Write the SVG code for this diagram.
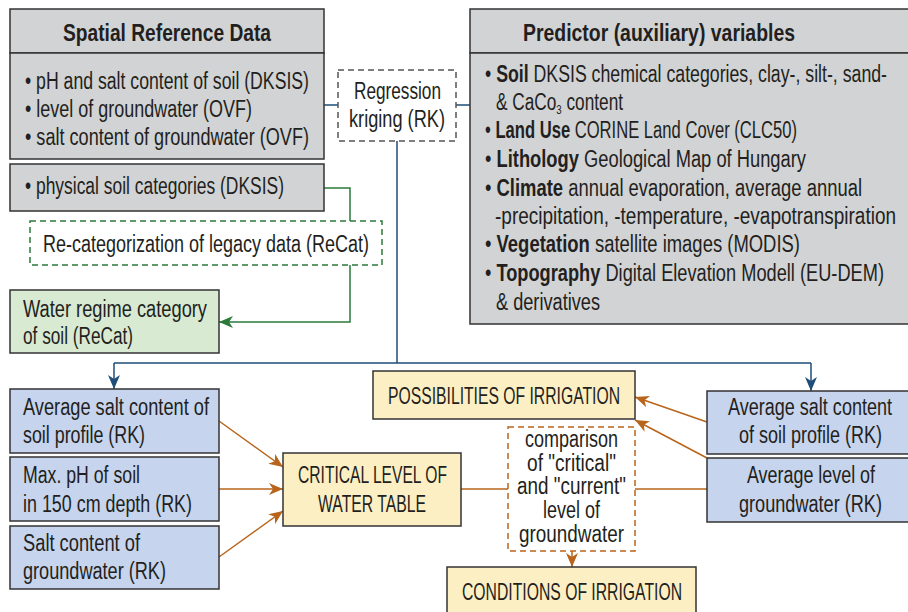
<svg xmlns="http://www.w3.org/2000/svg" width="908" height="612" viewBox="0 0 908 612">
<style>
text{font-family:"Liberation Sans",Arial,sans-serif;font-size:23px;fill:#231f20}
.b{font-weight:bold}
.h{font-weight:bold;font-size:24px}
.k{font-size:24px}
.gray{fill:#d1d3d4;stroke:#333;stroke-width:1.5}
.blue{fill:#c6d4ee;stroke:#333;stroke-width:1.5}
.yel{fill:#fdefc4;stroke:#333;stroke-width:1.5}
.grn{fill:#d8ead2;stroke:#333;stroke-width:1.5}
.dg{fill:#fff;stroke:#555;stroke-width:1.5;stroke-dasharray:6,4}
.dgr{fill:#fff;stroke:#2a7a3a;stroke-width:1.5;stroke-dasharray:6,4}
.dor{fill:#fff;stroke:#b8651b;stroke-width:1.5;stroke-dasharray:6,4}
.lb{fill:none;stroke:#1f4e79;stroke-width:1.5}
.lg{fill:none;stroke:#2a7a3a;stroke-width:1.5}
.lo{fill:none;stroke:#b8651b;stroke-width:1.5}
</style>
<defs>
<marker id="ab" markerUnits="userSpaceOnUse" markerWidth="16" markerHeight="12" refX="14" refY="6" orient="auto"><path d="M0,0 L14,6 L0,12 L4,6 z" fill="#1f4e79"/></marker>
<marker id="ag" markerUnits="userSpaceOnUse" markerWidth="16" markerHeight="12" refX="14" refY="6" orient="auto"><path d="M0,0 L14,6 L0,12 L4,6 z" fill="#2a7a3a"/></marker>
<marker id="ao" markerUnits="userSpaceOnUse" markerWidth="16" markerHeight="12" refX="14" refY="6" orient="auto"><path d="M0,0 L14,6 L0,12 L4,6 z" fill="#b8651b"/></marker>
</defs>

<g id="connectors">
<path class="lb" d="M324,105 H338 M456,105 H470 M397,141 V363 M114,363 H811"/>
<path class="lb" d="M114,363 V389" marker-end="url(#ab)"/>
<path class="lb" d="M811,363 V391" marker-end="url(#ab)"/>
<path class="lg" d="M324,188 H350 V221"/>
<path class="lg" d="M350,265 V322 H219" marker-end="url(#ag)"/>
<path class="lo" d="M219,421 L283,467" marker-end="url(#ao)"/>
<path class="lo" d="M219,489 H283" marker-end="url(#ao)"/>
<path class="lo" d="M219,557 L283,511" marker-end="url(#ao)"/>
<path class="lo" d="M707,422 L635,397" marker-end="url(#ao)"/>
<path class="lo" d="M707,458 L635,420" marker-end="url(#ao)"/>
<path class="lo" d="M461,489 H508 M635,489 H707"/>
<path class="lo" d="M572,551 V567" marker-end="url(#ao)"/>
</g>

<g id="spatial-reference">
<rect class="gray" x="10" y="9" width="314" height="44"/>
<rect class="gray" x="10" y="53" width="314" height="106"/>
<text class="h" x="63" y="41" textLength="208" lengthAdjust="spacingAndGlyphs">Spatial Reference Data</text>
<text x="25" y="89" textLength="284" lengthAdjust="spacingAndGlyphs">• pH and salt content of soil (DKSIS)</text>
<text x="25" y="117" textLength="227" lengthAdjust="spacingAndGlyphs">• level of groundwater (OVF)</text>
<text x="25" y="145" textLength="284" lengthAdjust="spacingAndGlyphs">• salt content of groundwater (OVF)</text>
</g>

<g id="physical-soil">
<rect class="gray" x="10" y="164" width="314" height="47"/>
<text x="25" y="194" textLength="259" lengthAdjust="spacingAndGlyphs">• physical soil categories (DKSIS)</text>
</g>

<g id="regression-kriging">
<rect class="dg" x="338" y="70" width="118" height="71"/>
<text x="354" y="99" textLength="87" lengthAdjust="spacingAndGlyphs">Regression</text>
<text x="349" y="127" textLength="96" lengthAdjust="spacingAndGlyphs">kriging (RK)</text>
</g>

<g id="predictor">
<rect class="gray" x="470" y="9" width="445" height="44"/>
<rect class="gray" x="470" y="53" width="445" height="271"/>
<text class="h" x="523" y="41" textLength="272" lengthAdjust="spacingAndGlyphs">Predictor (auxiliary) variables</text>
<text x="485" y="82" textLength="402" lengthAdjust="spacingAndGlyphs">• <tspan class="b">Soil</tspan> DKSIS chemical categories, clay-, silt-, sand-</text>
<text x="496" y="110" textLength="127" lengthAdjust="spacingAndGlyphs">&amp; CaCo<tspan font-size="13" dy="4">3</tspan><tspan dy="-4"> content</tspan></text>
<text x="485" y="138" textLength="312" lengthAdjust="spacingAndGlyphs">• <tspan class="b">Land Use</tspan> CORINE Land Cover (CLC50)</text>
<text x="485" y="167" textLength="321" lengthAdjust="spacingAndGlyphs">• <tspan class="b">Lithology</tspan> Geological Map of Hungary</text>
<text x="485" y="196" textLength="377" lengthAdjust="spacingAndGlyphs">• <tspan class="b">Climate</tspan> annual evaporation, average annual</text>
<text x="495" y="224" textLength="401" lengthAdjust="spacingAndGlyphs">-precipitation, -temperature, -evapotranspiration</text>
<text x="485" y="252" textLength="315" lengthAdjust="spacingAndGlyphs">• <tspan class="b">Vegetation</tspan> satellite images (MODIS)</text>
<text x="485" y="281" textLength="399" lengthAdjust="spacingAndGlyphs">• <tspan class="b">Topography</tspan> Digital Elevation Modell (EU-DEM)</text>
<text x="496" y="310" textLength="104" lengthAdjust="spacingAndGlyphs">&amp; derivatives</text>
</g>

<g id="recategorization">
<rect class="dgr" x="30" y="221" width="352" height="44"/>
<text x="43" y="252" textLength="326" lengthAdjust="spacingAndGlyphs">Re-categorization of legacy data (ReCat)</text>
</g>

<g id="water-regime">
<rect class="grn" x="10" y="290" width="209" height="63"/>
<text x="23" y="317" textLength="184" lengthAdjust="spacingAndGlyphs">Water regime category</text>
<text x="23" y="344" textLength="110" lengthAdjust="spacingAndGlyphs">of soil (ReCat)</text>
</g>

<g id="avg-salt-left">
<rect class="blue" x="10" y="389" width="209" height="64"/>
<text x="23" y="415" textLength="186" lengthAdjust="spacingAndGlyphs">Average salt content of</text>
<text x="23" y="443" textLength="122" lengthAdjust="spacingAndGlyphs">soil profile (RK)</text>
</g>

<g id="max-ph">
<rect class="blue" x="10" y="457" width="209" height="64"/>
<text x="23" y="483" textLength="117" lengthAdjust="spacingAndGlyphs">Max. pH of soil</text>
<text x="23" y="512" textLength="169" lengthAdjust="spacingAndGlyphs">in 150 cm depth (RK)</text>
</g>

<g id="salt-groundwater">
<rect class="blue" x="10" y="526" width="209" height="63"/>
<text x="23" y="551" textLength="117" lengthAdjust="spacingAndGlyphs">Salt content of</text>
<text x="23" y="579" textLength="143" lengthAdjust="spacingAndGlyphs">groundwater (RK)</text>
</g>

<g id="critical-level">
<rect class="yel" x="283" y="453" width="178" height="73"/>
<text class="k" x="298" y="483" textLength="149" lengthAdjust="spacingAndGlyphs">CRITICAL LEVEL OF</text>
<text class="k" x="318" y="512" textLength="108" lengthAdjust="spacingAndGlyphs">WATER TABLE</text>
</g>

<g id="possibilities">
<rect class="yel" x="373" y="371" width="262" height="48"/>
<text class="k" x="388" y="404" textLength="232" lengthAdjust="spacingAndGlyphs">POSSIBILITIES OF IRRIGATION</text>
</g>

<g id="comparison">
<rect class="dor" x="508" y="427" width="127" height="124"/>
<text x="525" y="447" textLength="93" lengthAdjust="spacingAndGlyphs">comparison</text>
<text x="527" y="471" textLength="89" lengthAdjust="spacingAndGlyphs">of "critical"</text>
<text x="517" y="494" textLength="109" lengthAdjust="spacingAndGlyphs">and "current"</text>
<text x="543" y="518" textLength="57" lengthAdjust="spacingAndGlyphs">level of</text>
<text x="519" y="542" textLength="105" lengthAdjust="spacingAndGlyphs">groundwater</text>
</g>

<g id="avg-salt-right">
<rect class="blue" x="707" y="391" width="208" height="63"/>
<text x="728" y="415" textLength="164" lengthAdjust="spacingAndGlyphs">Average salt content</text>
<text x="739" y="443" textLength="143" lengthAdjust="spacingAndGlyphs">of soil profile (RK)</text>
</g>

<g id="avg-level">
<rect class="blue" x="707" y="458" width="208" height="64"/>
<text x="747" y="483" textLength="128" lengthAdjust="spacingAndGlyphs">Average level of</text>
<text x="739" y="512" textLength="143" lengthAdjust="spacingAndGlyphs">groundwater (RK)</text>
</g>

<g id="conditions">
<rect class="yel" x="447" y="567" width="249" height="55"/>
<text class="k" x="462" y="600" textLength="220" lengthAdjust="spacingAndGlyphs">CONDITIONS OF IRRIGATION</text>
</g>
</svg>
